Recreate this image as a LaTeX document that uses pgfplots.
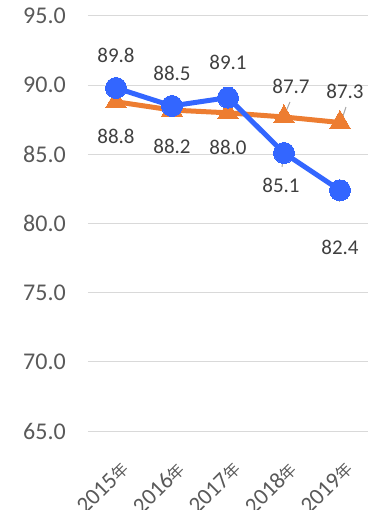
\documentclass[border=0pt]{standalone}
\usepackage{fontspec}
\setmainfont{Carlito}
\newfontfamily\cjk{Noto Sans CJK SC}
\usepackage{pgfplots}
\pgfplotsset{compat=1.18}
\definecolor{sblue}{HTML}{3366FF}
\definecolor{sorange}{HTML}{ED7D31}
\definecolor{txt}{HTML}{595959}
\definecolor{lbl}{HTML}{404040}
\definecolor{grd}{HTML}{D9D9D9}
\definecolor{ldr}{HTML}{A6A6A6}
\newcommand{\nian}{{\cjk\fontsize{16bp}{18bp}\selectfont 年}}

\begin{document}
\begin{tikzpicture}
\path[use as bounding box] (-88bp,-79bp) rectangle (297bp,431bp);
\begin{axis}[
    at={(0,0)}, anchor=south west,
    scale only axis, width=280bp, height=415bp,
    xmin=-0.5, xmax=4.5, ymin=65, ymax=95,
    xtick={0,1,2,3,4},
    xticklabels={2015\nian,2016\nian,2017\nian,2018\nian,2019\nian},
    ytick={65,70,75,80,85,90,95},
    /pgf/number format/.cd, fixed, fixed zerofill, precision=1, assume math mode=true,
    /pgfplots/.cd,
    axis line style={draw=none},
    major tick length=0pt,
    ymajorgrids,
    grid style={grd, line width=1bp},
    tick label style={txt, font=\fontsize{24bp}{28bp}\selectfont},
    yticklabel style={inner sep=0pt, xshift=-22bp},
    xticklabel style={font=\fontsize{23bp}{26bp}\selectfont, rotate=45, anchor=east,
        inner sep=0pt, xshift=-18bp, yshift=-31bp},
    clip=false,
]

% orange series
\addplot[sorange, line width=5bp, mark=triangle*, mark size=12bp,
    mark options={fill=sorange, draw=sorange, line width=0pt}]
    coordinates {(0,88.8)(1,88.2)(2,88.0)(3,87.7)(4,87.3)};
% blue series
\addplot[sblue, line width=5bp, mark=*, mark size=10.5bp,
    mark options={fill=sblue, draw=sblue, line width=0pt}]
    coordinates {(0,89.8)(1,88.5)(2,89.1)(3,85.1)(4,82.4)};

% leader lines
\draw[ldr, line width=1bp] ([yshift=1bp]axis cs:3,87.7) -- ([xshift=6bp,yshift=15bp]axis cs:3,87.7);
\draw[ldr, line width=1bp] ([xshift=1bp,yshift=0.5bp]axis cs:4,87.3) -- ([xshift=6bp,yshift=15.5bp]axis cs:4,87.3);
\draw[ldr, line width=1bp] ([yshift=-2bp]axis cs:3,85.1) -- ([xshift=-2bp,yshift=-14bp]axis cs:3,85.1);
\draw[ldr, line width=1bp] (axis cs:4,82.4) -- ([yshift=-12bp]axis cs:4,82.4);

% data labels
\begin{scope}[every node/.style={lbl, font=\fontsize{21bp}{25bp}\selectfont, inner sep=0pt}]
\node at ([yshift=33bp]axis cs:0,89.8) {89.8};
\node at ([yshift=33bp]axis cs:1,88.5) {88.5};
\node at ([yshift=35bp]axis cs:2,89.1) {89.1};
\node at ([xshift=-3bp,yshift=-32bp]axis cs:3,85.1) {85.1};
\node at ([yshift=-57bp]axis cs:4,82.4) {82.4};
\node at ([yshift=-35bp]axis cs:0,88.8) {88.8};
\node at ([yshift=-36bp]axis cs:1,88.2) {88.2};
\node at ([yshift=-35bp]axis cs:2,88.0) {88.0};
\node at ([xshift=7bp,yshift=31bp]axis cs:3,87.7) {87.7};
\node at ([xshift=5bp,yshift=31bp]axis cs:4,87.3) {87.3};
\end{scope}

\end{axis}
\end{tikzpicture}
\end{document}
